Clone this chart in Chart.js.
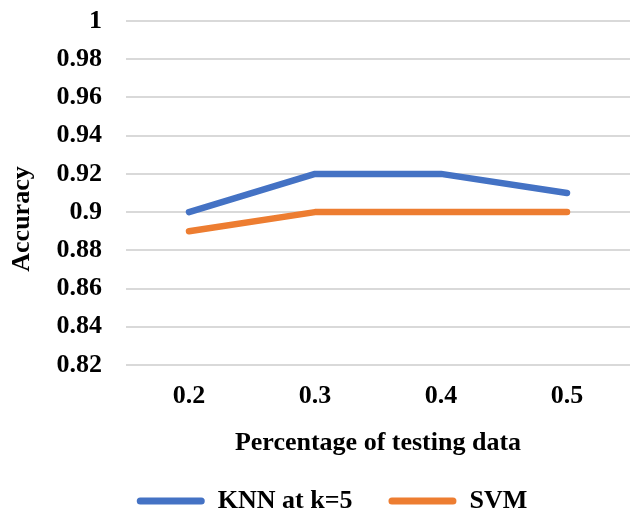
<!DOCTYPE html>
<html>
<head>
<meta charset="utf-8">
<script src="https://cdn.jsdelivr.net/npm/chart.js@4"></script>
<style>
    html, body { margin: 0; padding: 0; background: #ffffff; }
    #wrap { width: 631px; height: 520px; }
</style>
</head>
<body>
<div id="wrap"><canvas id="accuracyChart" width="631" height="520"></canvas></div>
<script>
const testSizes = ['0.2', '0.3', '0.4', '0.5'];
const knnAccuracy = [0.90, 0.92, 0.92, 0.91];
const svmAccuracy = [0.89, 0.90, 0.90, 0.90];
const yAxisTitle = 'Accuracy';
const xAxisTitle = 'Percentage of testing data';

const fontFamily = '"Liberation Serif", "Times New Roman", serif';
const boldFont = { family: fontFamily, size: 26, weight: 'bold' };

// y axis title sits lower than the plot centre in the original, so draw it by hand
const yTitlePlugin = {
    id: 'yTitle',
    afterDraw(chart) {
        const c = chart.ctx;
        c.save();
        c.translate(22, 219);
        c.rotate(-Math.PI / 2);
        c.font = `bold ${boldFont.size}px ${fontFamily}`;
        c.fillStyle = '#000000';
        c.textAlign = 'center';
        c.textBaseline = 'middle';
        c.fillText(yAxisTitle, 0, 0);
        c.restore();
    }
};

const ctx = document.getElementById('accuracyChart').getContext('2d');

new Chart(ctx, {
    type: 'line',
    data: {
        labels: testSizes,
        datasets: [{
            label: 'KNN at k=5',
            data: knnAccuracy,
            borderColor: '#4472C4',
            backgroundColor: '#4472C4',
            borderWidth: 6.5,
            borderCapStyle: 'round',
            borderJoinStyle: 'round',
            pointRadius: 0,
            tension: 0
        }, {
            label: 'SVM',
            data: svmAccuracy,
            borderColor: '#ED7D31',
            backgroundColor: '#ED7D31',
            borderWidth: 6.5,
            borderCapStyle: 'round',
            borderJoinStyle: 'round',
            pointRadius: 0,
            tension: 0
        }]
    },
    options: {
        responsive: false,
        animation: false,
        layout: {
            padding: { top: 21, right: 1, bottom: -4, left: 34 }
        },
        plugins: {
            tooltip: { enabled: false },
            legend: {
                position: 'bottom',
                labels: {
                    color: '#000000',
                    font: boldFont,
                    boxWidth: 68,
                    boxHeight: 7,
                    useBorderRadius: true,
                    borderRadius: 3.5,
                    padding: 36,
                    generateLabels(chart) {
                        const items = Chart.defaults.plugins.legend.labels.generateLabels(chart);
                        items.forEach(item => { item.lineWidth = 0; });
                        return items;
                    }
                }
            }
        },
        scales: {
            x: {
                offset: true,
                grid: { display: false, drawTicks: false },
                border: { display: false },
                ticks: { color: '#000000', font: boldFont, padding: 16 },
                title: {
                    display: true,
                    text: xAxisTitle,
                    color: '#000000',
                    font: boldFont,
                    padding: { top: 0, bottom: -7 }
                },
                afterFit(scale) { scale.height = 87; }
            },
            y: {
                min: 0.82,
                max: 1,
                grid: { color: '#D9D9D9', lineWidth: 2, drawTicks: false },
                border: { display: false },
                ticks: {
                    stepSize: 0.02,
                    color: '#000000',
                    font: boldFont,
                    padding: 24,
                    callback: v => String(+v.toFixed(2))
                },
                afterFit(scale) {
                    scale.width = 92;
                    scale.paddingTop = 0;
                    scale.paddingBottom = 0;
                }
            }
        }
    },
    plugins: [yTitlePlugin]
});
</script>
</body>
</html>
